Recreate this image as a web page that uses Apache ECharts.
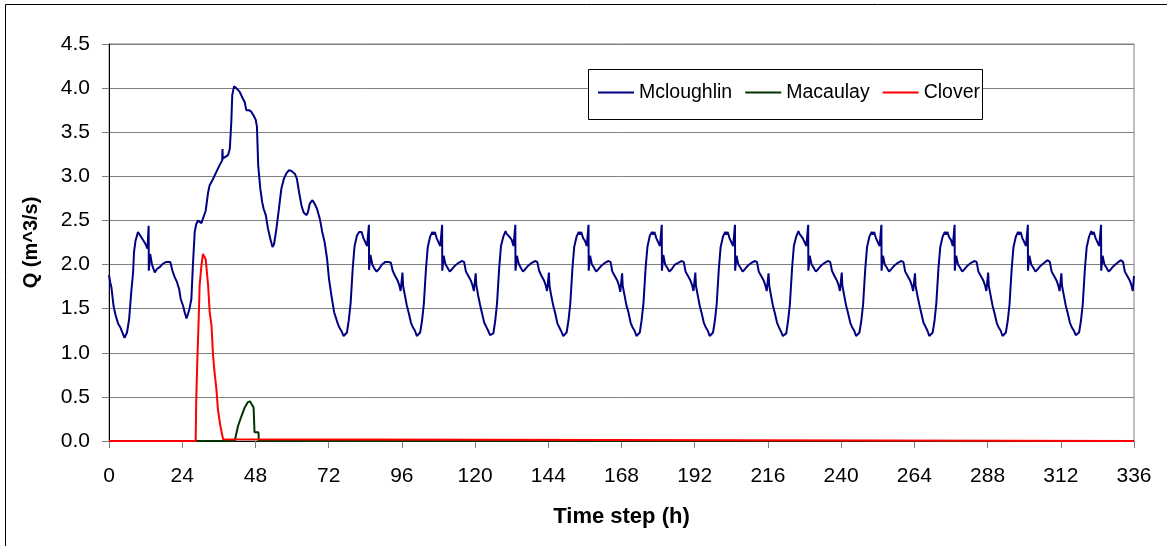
<!DOCTYPE html>
<html>
<head>
<meta charset="utf-8">
<title>Q (m^3/s)</title>
<script src="https://cdn.jsdelivr.net/npm/echarts@6/dist/echarts.min.js"></script>
<style>
  html, body { margin: 0; padding: 0; background: #ffffff; }
  #chart { width: 1167px; height: 546px; }
</style>
</head>
<body>
<div id="chart"></div>
<script>
// ---- Data -------------------------------------------------------------
const seriesNames = ['Mcloughlin', 'Macaulay', 'Clover'];

// Mcloughlin, first three days: [hour, Q]
const mcloughlinEarly = [
  [0,1.88],[0.4,1.80],[0.8,1.74],[1.5,1.53],[2.2,1.42],[3.0,1.33],[3.7,1.29],[4.6,1.21],[5.1,1.17],
  [5.9,1.23],[6.6,1.38],[7.3,1.69],[7.9,1.91],[8.2,2.14],[8.7,2.27],[9.5,2.37],[10.0,2.39],[10.6,2.31],
  [11.1,2.29],[12.0,2.23],[12.6,2.18],[13.0,2.44],[13.05,1.93],[13.5,2.12],[14.1,2.00],[15.0,1.91],
  [15.7,1.95],[16.6,1.97],[17.7,2.01],[18.8,2.03],[20.1,2.03],[20.8,1.93],[21.5,1.86],[22.3,1.80],
  [23.0,1.72],[23.5,1.61],[24.3,1.53],[24.8,1.46],[25.4,1.39],[25.9,1.44],[26.4,1.50],[27.0,1.61],
  [27.5,1.99],[28.1,2.37],[28.6,2.46],[29.2,2.50],[29.7,2.48],[30.3,2.47],[30.8,2.52],[31.7,2.61],
  [32.5,2.82],[33.0,2.90],[34.1,2.97],[35.2,3.05],[36.3,3.13],[37.1,3.18],[37.2,3.31],[37.3,3.20],
  [37.9,3.20],[39.0,3.24],[39.6,3.31],[40.1,3.62],[40.4,3.92],[41.0,4.02],[41.7,4.00],[42.3,3.98],
  [42.8,3.96],[43.4,3.94],[43.9,3.88],[44.5,3.84],[45.0,3.75],[45.9,3.75],[46.7,3.73],[47.4,3.69],
  [48.1,3.64],[48.5,3.56],[48.9,3.13],[49.2,3.01],[49.6,2.86],[50.2,2.71],[50.7,2.63],[51.4,2.56],
  [52.1,2.41],[52.9,2.29],[53.6,2.20],[54.1,2.23],[54.9,2.41],[55.7,2.63],[56.5,2.86],[57.3,2.97],
  [58.1,3.03],[59.0,3.07],[59.8,3.06],[60.9,3.03],[61.6,2.97],[62.3,2.82],[63.1,2.67],[63.8,2.59],
  [64.7,2.56],[65.2,2.59],[65.8,2.69],[66.7,2.73],[67.4,2.69],[68.2,2.63],[69.1,2.52],[69.9,2.37],
  [70.7,2.25],[71.5,2.06],[72.1,1.84],[72.9,1.65],[73.8,1.46]
];

// Sampling hours within each later day (hours after the start of the day)
const cycleHours = [0.2,0.4,1.0,1.6,2.2,3.0,3.6,4.3,4.9,5.4,6.0,6.6,7.2,7.9,8.5,9.3,10.0,10.3,10.8,
  11.4,12.0,12.6,13.2,13.25,13.7,14.3,14.9,15.7,16.5,17.5,18.6,19.6,20.4,21.0,21.8,22.6,23.2,23.6];

// Mcloughlin Q for days 3 to 13, one row per day, aligned with cycleHours
const firstCycleDay = 3;
const mcloughlinDays = [
  [null,null,null,null,null,1.33,1.28,1.24,1.19,1.18,1.23,1.37,1.56,1.96,2.21,2.33,2.37,2.35,2.37,2.30,2.28,2.21,2.45,1.94,2.11,2.00,1.96,1.92,1.95,2.00,2.03,2.03,2.02,1.93,1.87,1.82,1.76,1.70],
  [1.91,1.76,1.65,1.54,1.46,1.34,1.29,1.25,1.19,1.18,1.23,1.36,1.55,1.95,2.20,2.32,2.37,2.34,2.37,2.30,2.28,2.21,2.45,1.93,2.10,2.00,1.97,1.92,1.95,1.99,2.02,2.04,2.03,1.92,1.87,1.82,1.76,1.70],
  [1.90,1.77,1.65,1.55,1.46,1.34,1.30,1.25,1.20,1.18,1.22,1.36,1.56,1.96,2.21,2.32,2.38,2.35,2.37,2.31,2.28,2.21,2.45,1.93,2.10,2.01,1.97,1.92,1.95,1.99,2.02,2.04,2.03,1.93,1.87,1.82,1.76,1.70],
  [1.91,1.76,1.64,1.54,1.46,1.33,1.29,1.24,1.19,1.18,1.23,1.36,1.55,1.95,2.20,2.32,2.37,2.34,2.37,2.30,2.27,2.21,2.45,1.93,2.10,2.00,1.97,1.92,1.95,1.99,2.02,2.04,2.03,1.92,1.87,1.82,1.76,1.69],
  [1.90,1.76,1.65,1.54,1.47,1.34,1.29,1.25,1.19,1.18,1.23,1.37,1.56,1.96,2.20,2.33,2.37,2.34,2.37,2.30,2.28,2.21,2.45,1.93,2.11,2.00,1.97,1.92,1.95,2.00,2.02,2.04,2.03,1.92,1.87,1.82,1.76,1.70],
  [1.91,1.76,1.65,1.54,1.46,1.34,1.29,1.25,1.19,1.18,1.23,1.36,1.55,1.95,2.20,2.32,2.37,2.34,2.37,2.30,2.28,2.21,2.45,1.93,2.10,2.00,1.97,1.92,1.95,1.99,2.02,2.04,2.03,1.92,1.87,1.82,1.76,1.70],
  [1.90,1.77,1.65,1.54,1.46,1.34,1.29,1.24,1.19,1.18,1.22,1.36,1.55,1.95,2.21,2.32,2.38,2.35,2.37,2.30,2.28,2.21,2.45,1.93,2.10,2.00,1.97,1.92,1.95,1.99,2.02,2.04,2.03,1.93,1.87,1.82,1.76,1.70],
  [1.91,1.76,1.65,1.54,1.46,1.34,1.29,1.25,1.19,1.18,1.23,1.36,1.55,1.95,2.20,2.32,2.37,2.34,2.37,2.30,2.28,2.21,2.45,1.93,2.10,2.00,1.97,1.92,1.95,1.99,2.02,2.04,2.03,1.92,1.87,1.82,1.76,1.70],
  [1.90,1.76,1.65,1.55,1.46,1.34,1.30,1.25,1.19,1.18,1.23,1.36,1.56,1.96,2.20,2.32,2.37,2.34,2.37,2.31,2.28,2.21,2.45,1.93,2.10,2.00,1.97,1.92,1.95,1.99,2.02,2.04,2.03,1.92,1.87,1.82,1.76,1.70],
  [1.91,1.76,1.65,1.54,1.46,1.34,1.29,1.25,1.19,1.18,1.23,1.36,1.55,1.95,2.20,2.32,2.37,2.34,2.37,2.30,2.28,2.21,2.45,1.93,2.10,2.00,1.97,1.92,1.95,1.99,2.02,2.05,2.03,1.92,1.87,1.82,1.76,1.70],
  [1.90,1.76,1.65,1.54,1.46,1.34,1.29,1.25,1.20,1.18,1.23,1.36,1.55,1.95,2.20,2.32,2.38,2.34,2.37,2.30,2.28,2.21,2.45,1.93,2.10,2.00,1.97,1.92,1.95,1.99,2.02,2.05,2.03,1.92,1.87,1.82,1.76,1.70]
];
const mcloughlinLast = [336, 1.87];

// Macaulay: [hour, Q]
const macaulay = [
  [0,0],[41.2,0],[42.3,0.17],[43.4,0.28],[44.5,0.38],[45.5,0.44],[46.2,0.45],[46.8,0.43],
  [47.4,0.38],[47.7,0.10],[49.0,0.10],[49.1,0],[336,0]
];

// Clover: [hour, Q]
const clover = [
  [0,0],[28.4,0],[28.6,0.47],[29.0,0.97],[29.4,1.38],[29.7,1.76],[30.3,1.99],[30.8,2.12],[31.2,2.14],
  [31.7,2.06],[32.5,1.76],[33.0,1.46],[33.6,1.31],[34.1,0.97],[34.6,0.78],[35.2,0.59],[35.7,0.36],
  [36.5,0.17],[37.4,0.02],[37.6,0],[336,0]
];

// Axis ranges and tick steps
const xMin = 0, xMax = 336, xStep = 24;
const yMin = 0, yMax = 4.5, yStep = 0.5;

// ---- Build the Mcloughlin point list ----------------------------------
const mcloughlin = mcloughlinEarly.slice();
mcloughlinDays.forEach(function (row, i) {
  const dayStart = 24 * (firstCycleDay + i);
  row.forEach(function (q, j) {
    if (q !== null) mcloughlin.push([+(dayStart + cycleHours[j]).toFixed(2), q]);
  });
});
mcloughlin.push(mcloughlinLast);

// ---- Chart -------------------------------------------------------------
const FONT = '"Liberation Sans", Arial, sans-serif';
const colors = ['#000080', '#003300', '#ff0000'];
const chart = echarts.init(document.getElementById('chart'), null, { renderer: 'canvas' });

chart.setOption({
  animation: false,
  backgroundColor: '#ffffff',
  textStyle: { fontFamily: FONT, color: '#000000' },
  graphic: [
    { // outer chart frame
      type: 'rect', z: -10, silent: true,
      shape: { x: 5.5, y: 4.5, width: 1300, height: 700 },
      style: { fill: null, stroke: '#000000', lineWidth: 1 }
    },
    { // legend box
      type: 'rect', z: 3, silent: true,
      shape: { x: 588.5, y: 69.5, width: 394, height: 50 },
      style: { fill: '#ffffff', stroke: '#000000', lineWidth: 1 }
    }
  ],
  grid: {
    left: 109, right: 33, top: 44, bottom: 105,
    show: true, borderColor: '#808080', borderWidth: 1, backgroundColor: 'transparent'
  },
  legend: {
    data: seriesNames.map(function (n, i) {
      return { name: n, icon: 'rect', itemStyle: { color: colors[i] } };
    }),
    left: 598, top: 82.5, padding: 0,
    itemWidth: 36, itemHeight: 2, itemGap: 13,
    z: 5,
    textStyle: { fontFamily: FONT, fontSize: 19.5, color: '#000000', lineHeight: 20 }
  },
  xAxis: {
    type: 'value', min: xMin, max: xMax, interval: xStep,
    name: 'Time step (h)', nameLocation: 'middle', nameGap: 65,
    nameTextStyle: { fontFamily: FONT, fontSize: 22, fontWeight: 'bold', color: '#000000' },
    axisLine: { show: true, onZero: false, lineStyle: { color: '#000000', width: 1 } },
    axisTick: { show: true, inside: false, length: 7, lineStyle: { color: '#808080' } },
    axisLabel: { fontFamily: FONT, fontSize: 21, color: '#000000', margin: 25 },
    splitLine: { show: false }
  },
  yAxis: {
    type: 'value', min: yMin, max: yMax, interval: yStep,
    name: 'Q (m^3/s)', nameLocation: 'middle', nameRotate: 90, nameGap: 68,
    nameTextStyle: { fontFamily: FONT, fontSize: 20, fontWeight: 'bold', color: '#000000' },
    axisLine: { show: true, lineStyle: { color: '#000000', width: 1 } },
    axisTick: { show: true, inside: false, length: 7, lineStyle: { color: '#808080' } },
    axisLabel: {
      fontFamily: FONT, fontSize: 21, color: '#000000', margin: 19,
      formatter: function (v) { return v.toFixed(1); }
    },
    splitLine: { show: true, lineStyle: { color: '#808080', width: 1 } }
  },
  series: [
    {
      name: seriesNames[0], type: 'line', data: mcloughlin, symbol: 'none',
      lineStyle: { color: colors[0], width: 2 }, itemStyle: { color: colors[0] }, z: 2
    },
    {
      name: seriesNames[1], type: 'line', data: macaulay, symbol: 'none',
      lineStyle: { color: colors[1], width: 2 }, itemStyle: { color: colors[1] }, z: 3
    },
    {
      name: seriesNames[2], type: 'line', data: clover, symbol: 'none',
      lineStyle: { color: colors[2], width: 2 }, itemStyle: { color: colors[2] }, z: 4
    }
  ]
});
</script>
</body>
</html>
